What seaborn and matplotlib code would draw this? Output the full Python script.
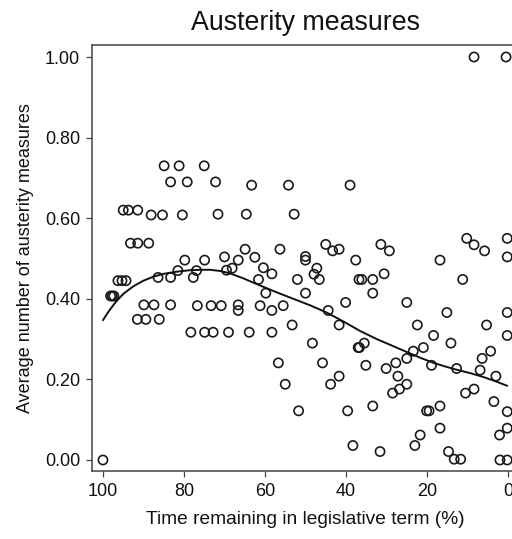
import matplotlib
matplotlib.use("Agg")
import matplotlib.pyplot as plt
import seaborn as sns
import pandas as pd

# --- Data ---
time_remaining = [
    84.9, 81.2, 75.0, 83.3, 79.2, 72.2, 95.0, 93.7, 91.4, 88.1, 85.3, 80.4, 71.6,
    63.3, 54.2, 39.0, 64.6, 52.8, 8.4, 0.5,
    93.2, 91.4, 88.7, 79.8, 74.9, 70.0, 96.3, 95.3, 94.3, 86.4, 83.3, 81.5, 77.7,
    76.9, 69.5, 98.1, 97.7, 97.3, 89.9, 87.4, 83.3, 76.7, 73.3, 70.8, 91.5, 89.4,
    86.1, 78.3, 74.9, 72.8, 69.0, 100.0,
    64.9, 66.6, 62.5, 56.3, 45.0, 43.3, 41.7, 37.6, 50.0, 50.0, 68.1, 60.4, 58.3,
    61.6, 52.0, 47.2, 47.9, 46.6, 36.8, 59.8, 50.0, 66.6, 66.6, 61.2, 58.3, 55.5,
    44.4, 40.1, 41.7, 53.3, 63.9, 58.3, 48.3, 37.0, 56.7, 45.8, 41.7, 55.0, 43.8,
    51.7, 39.6, 38.3,
    10.2, 8.4, 0.2, 31.4, 29.3, 5.8, 16.8, 0.2, 36.1, 33.4, 30.6, 11.2, 33.4, 25.0,
    15.1, 0.2, 22.4, 5.3, 18.4, 0.2, 36.7, 35.5, 14.1, 23.4, 20.9, 25.0, 27.7, 30.1,
    35.1, 18.9, 12.7, 6.4, 4.3, 6.9, 3.0, 27.2, 28.5, 26.8, 25.0, 10.5, 8.4, 3.5,
    33.4, 20.1, 19.5, 16.8, 0.2, 16.8, 21.7, 23.0, 2.1, 0.2, 31.6, 14.7, 13.3, 11.7,
    2.0, 0.2,
]
austerity = [
    0.73, 0.73, 0.73, 0.69, 0.69, 0.69, 0.62, 0.62, 0.62, 0.608, 0.608, 0.608, 0.61,
    0.682, 0.682, 0.682, 0.61, 0.61, 1.0, 1.0,
    0.538, 0.538, 0.538, 0.496, 0.496, 0.504, 0.445, 0.445, 0.445, 0.453, 0.453, 0.47, 0.453,
    0.47, 0.471, 0.407, 0.407, 0.407, 0.385, 0.385, 0.385, 0.383, 0.383, 0.383, 0.349, 0.349,
    0.349, 0.317, 0.317, 0.317, 0.317, 0.0,
    0.523, 0.496, 0.503, 0.523, 0.535, 0.519, 0.523, 0.496, 0.505, 0.496, 0.476, 0.477, 0.462,
    0.448, 0.448, 0.476, 0.461, 0.448, 0.448, 0.414, 0.414, 0.385, 0.371, 0.383, 0.371, 0.383,
    0.371, 0.391, 0.335, 0.335, 0.317, 0.317, 0.29, 0.279, 0.241, 0.241, 0.208, 0.188, 0.188,
    0.122, 0.122, 0.036,
    0.55, 0.534, 0.55, 0.535, 0.519, 0.519, 0.496, 0.504, 0.448, 0.448, 0.462, 0.448, 0.414, 0.391,
    0.366, 0.366, 0.335, 0.335, 0.309, 0.309, 0.279, 0.29, 0.29, 0.27, 0.279, 0.252, 0.241, 0.227,
    0.235, 0.235, 0.227, 0.252, 0.27, 0.223, 0.208, 0.208, 0.166, 0.176, 0.188, 0.166, 0.176, 0.145,
    0.134, 0.122, 0.122, 0.134, 0.12, 0.079, 0.062, 0.036, 0.062, 0.079, 0.021, 0.021, 0.002, 0.002,
    0.0, 0.0,
]

# smoothed (lowess) fit as drawn in the figure
curve_time = [100, 98.5, 97, 95, 92.5, 90, 87.5, 85, 82, 78.5, 76, 73.6, 71, 68.6,
              65.4, 61.2, 57.1, 53, 48.9, 44.8, 40.7, 36.5, 32.4, 28, 25, 21.5,
              18.4, 15.5, 12.7, 9.5, 6.1, 3, 0.2]
curve_value = [0.347, 0.37, 0.39, 0.412, 0.431, 0.445, 0.455, 0.462, 0.467, 0.471,
               0.472, 0.472, 0.469, 0.463, 0.451, 0.433, 0.416, 0.4, 0.384, 0.366,
               0.344, 0.32, 0.3, 0.281, 0.268, 0.253, 0.241, 0.232, 0.224, 0.216,
               0.206, 0.195, 0.184]

x_ticks = [100, 80, 60, 40, 20, 0]
y_ticks = [0.0, 0.2, 0.4, 0.6, 0.8, 1.0]

points = pd.DataFrame({"time": time_remaining, "value": austerity})
curve = pd.DataFrame({"time": curve_time, "value": curve_value})

sns.set_theme(style="ticks")
plt.rcParams['font.family'] = ['Liberation Sans', 'DejaVu Sans']

fig = plt.figure(figsize=(5.12, 5.39), dpi=100)
ax = fig.add_axes([92 / 512, 68 / 539, 427 / 512, 426 / 539])

sns.scatterplot(data=points, x="time", y="value", ax=ax, s=44,
                facecolor="none", edgecolor="#1a1a1a", linewidth=1.2, clip_on=False)
sns.lineplot(data=curve, x="time", y="value", ax=ax, color="#111111",
             linewidth=1.4, sort=False)

ax.set_xlim(102.7, -2.7)
ax.set_ylim(-0.0273, 1.0298)
ax.set_xticks(x_ticks)
ax.set_xticklabels([str(t) for t in x_ticks])
ax.set_yticks(y_ticks)
ax.set_yticklabels([f"{t:.2f}" for t in y_ticks])

for side in ["top", "right", "left", "bottom"]:
    ax.spines[side].set_visible(True)
    ax.spines[side].set_color("#444444")
    ax.spines[side].set_linewidth(1.1)

ax.tick_params(axis="both", length=4.5, width=0.9, color="#444444",
               labelsize=13, labelcolor="#111111", pad=4)
ax.set_xlabel("Time remaining in legislative term (%)", fontsize=13.8,
              color="#111111", labelpad=8)
ax.set_ylabel("Average number of austerity measures", fontsize=13,
              color="#111111", labelpad=8)
ax.set_title("Austerity measures", fontsize=19.3, color="#111111", pad=10.5)

fig.savefig("out.png", dpi=100, facecolor="white")
